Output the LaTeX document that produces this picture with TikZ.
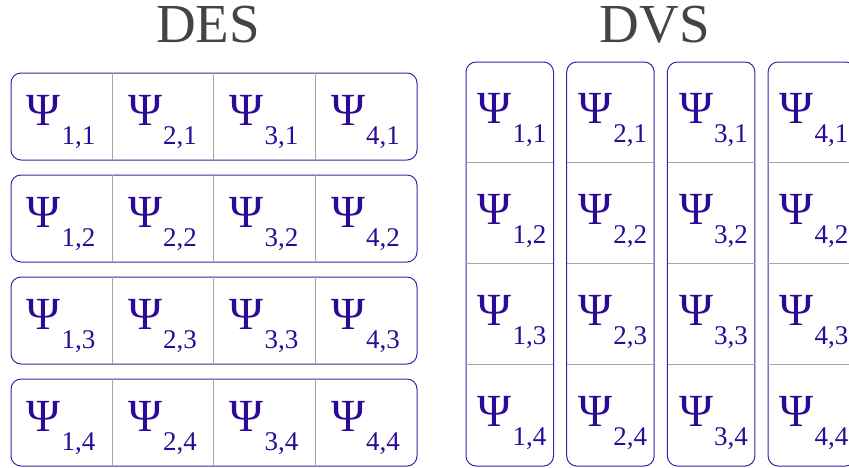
\documentclass[tikz,border=0pt]{standalone}
\usepackage{fontspec}
\setmainfont{Liberation Serif}
\usetikzlibrary{positioning}
\definecolor{boxline}{HTML}{3B22A6}
\definecolor{psitext}{HTML}{2A0A96}
\definecolor{titlegray}{HTML}{444444}
\newcommand{\psicell}[2]{{\fontsize{46}{46}\selectfont Ψ}\kern1pt\raisebox{-19pt}{\fontsize{27}{27}\selectfont #1,#2}}

\begin{document}
\begin{tikzpicture}[x=1pt, y=-1pt,
		title/.style={font=\fontsize{55}{55}\selectfont, text=titlegray, inner sep=0pt},
		row/.style={draw=boxline, line width=1pt, rounded corners=10pt,
				minimum width=406pt, minimum height=87pt, inner sep=0pt},
		col/.style={row, minimum width=87.5pt, minimum height=404pt},
		sep/.style={draw=gray!70, line width=0.8pt, shorten <=0.6pt, shorten >=0.6pt},
		psi/.style={text=psitext, inner sep=0pt, anchor=base west}
		]
		\clip (0,0) rectangle (849,467);
		\node[title] (des) at (208,25) {DES};
		\node[title] (dvs) at (655,25) {DVS};
		% DES: one box per row
		\foreach \j in {1,...,4} {
			\node[row] (row\j) at (214,{116.5+102*(\j-1)}) {};
			\foreach \i in {1,2,3}
			\draw[sep] ([xshift={101.5*\i}]row\j.north west) -- ([xshift={101.5*\i}]row\j.south west);
			\foreach \i in {1,...,4}
			\node[psi] (d\i\j) at ([shift={({101.5*(\i-1)+16},53)}]row\j.north west) {\psicell{\i}{\j}};
		}
		% DVS: one box per column
		\foreach \i in {1,...,4} {
			\node[col] (col\i) at ({509.75+100.7*(\i-1)},264) {};
			\foreach \j in {1,2,3}
			\draw[sep] ([yshift={-101*\j}]col\i.north west) -- ([yshift={-101*\j}]col\i.north east);
			\foreach \j in {1,...,4}
			\node[psi] (v\i\j) at ([shift={(12,{62+101*(\j-1)})}]col\i.north west) {\psicell{\i}{\j}};
		}
	\end{tikzpicture}
\end{document}
